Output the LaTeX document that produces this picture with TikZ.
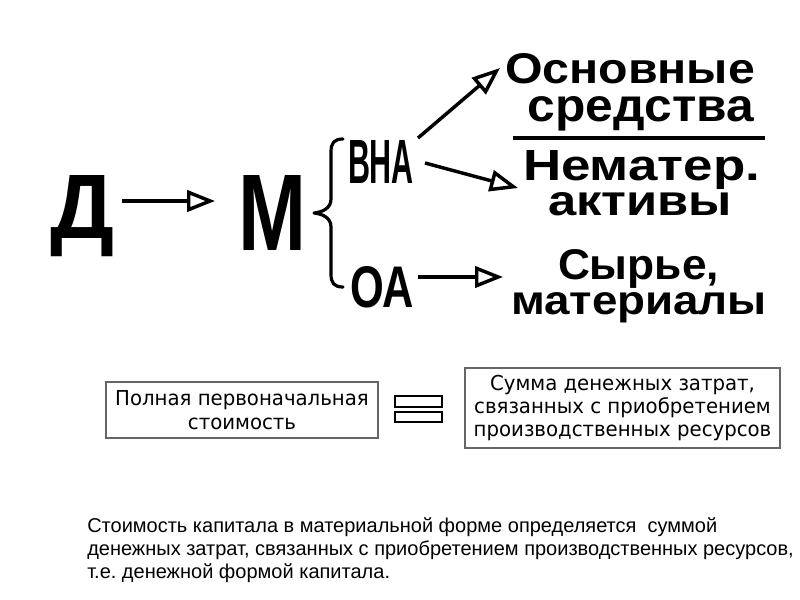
\documentclass[tikz,border=0pt]{standalone}
\usepackage{fontspec}
\setmainfont{Liberation Sans}
\newfontfamily\boxfont[FakeStretch=0.96]{DejaVu Sans}
\newfontfamily\parfont{Liberation Sans}
\usetikzlibrary{arrows.meta}
\newdimen\pxu \pxu=0.75pt
\newcommand\fitword[3]{\resizebox{#1\pxu}{#2\pxu}{\fontsize{40pt}{40pt}\selectfont\bfseries #3}}
\frenchspacing
\tikzset{
  bigw/.style={inner sep=0pt, anchor=base},
  arr/.style={line width=2.6pt, -{Triangle[open,length=21pt,width=16pt]}},
  framebox/.style={draw=black!60, line width=0.8pt, fill=white, align=center, inner sep=0pt},
  partext/.style={inner sep=0pt, anchor=base west, font=\parfont\fontsize{15pt}{17.25pt}\selectfont},
}
\begin{document}
\begin{tikzpicture}[x=0.75pt,y=-0.75pt]
\useasboundingbox (0,0) rectangle (800,600);
% big letters
\node[bigw] (D) at (82.5,238) {\fitword{64}{63}{Д}};
\node[bigw] (M) at (272,250) {\fitword{68}{75}{М}};
\node[bigw] (VNA) at (381,183) {\fitword{66}{43}{ВНА}};
\node[bigw] (OA) at (382,307) {\fitword{64}{41}{ОА}};
\node[bigw] (os) at (630,83) {\fitword{250}{30}{Основные}};
\node[bigw] (sr) at (641,121) {\fitword{226}{25}{средства}};
\node[bigw] (nem) at (641.5,180) {\fitword{237}{30}{Нематер.}};
\node[bigw] (akt) at (640,215) {\fitword{184}{23}{активы}};
\node[bigw] (syr) at (638.5,279) {\fitword{161}{30}{Сырье,}};
\node[bigw] (mat) at (639,314) {\fitword{256}{22}{материалы}};
% arrow end points
\coordinate (a0s) at (122,201);
\coordinate (a0e) at (215,201);
\coordinate (a1s) at (418,138);
\coordinate (a1e) at (500,68);
\coordinate (a2s) at (425,163);
\coordinate (a2e) at (518,188);
\coordinate (a3s) at (418,277);
\coordinate (a3e) at (503,277);
\draw[arr] (a0s) -- (a0e);
\draw[arr] (a1s) -- (a1e);
\draw[arr] (a2s) -- (a2e);
\draw[arr] (a3s) -- (a3e);
% brace
\draw[line width=2.4pt, line cap=round, line join=round]
  (343,139) .. controls (334,139) and (331,143) .. (331,152) -- (331,199)
  .. controls (331,208) and (323,212) .. (314,213)
  .. controls (323,214) and (331,218) .. (331,227) -- (331,274)
  .. controls (331,283) and (334,287) .. (343,287);
% fraction line
\draw[line width=2.4pt] (513,138) -- (765,138);
% boxes
\node[framebox, minimum width=204pt, minimum height=42pt,
      font=\boxfont\fontsize{15.4pt}{18pt}\selectfont] (b1) at (242,410)
  {Полная первоначальная\\стоимость};
\node[framebox, minimum width=236.25pt, minimum height=60pt,
      font=\boxfont\fontsize{15.4pt}{16.9pt}\selectfont] (b2) at (622.5,408)
  {Сумма денежных затрат,\\связанных с приобретением\\производственных ресурсов};
% equals sign
\draw[line width=1.6pt] (395,396) rectangle (442,407);
\draw[line width=1.6pt] (395,412) rectangle (442,422);
% bottom text
\node[partext] (t1) at (87,532) {Стоимость капитала в материальной форме определяется\ \ суммой};
\node[partext] (t2) at (87,555) {денежных затрат, связанных с приобретением производственных ресурсов,};
\node[partext] (t3) at (87,578) {т.е. денежной формой капитала.};
\end{tikzpicture}
\end{document}
